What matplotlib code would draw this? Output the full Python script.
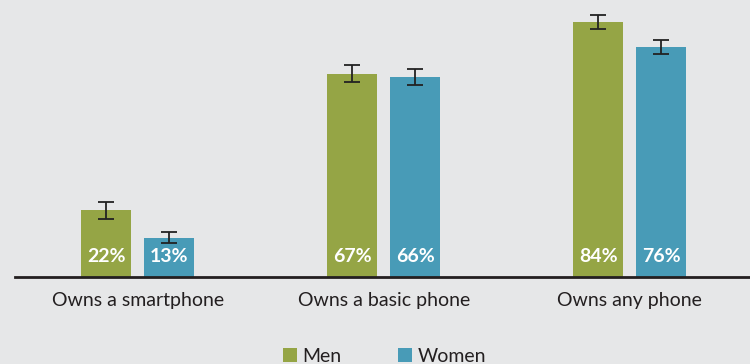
"""Phone ownership by gender, grouped bars with error bars."""

import matplotlib.pyplot as plt
import numpy as np
from matplotlib.patches import Patch

categories = ["Owns a smartphone", "Owns a basic phone", "Owns any phone"]
men = [22, 67, 84]
women = [13, 66, 76]
men_err = [2.7, 2.8, 2.3]
women_err = [1.8, 2.6, 2.3]
series_names = ["Men", "Women"]

GREEN = "#95a545"
BLUE = "#489bb7"
BG = "#e6e7e8"

plt.rcParams["font.family"] = ["Lato", "DejaVu Sans"]

fig = plt.figure(figsize=(7.5, 3.64), dpi=100, facecolor=BG)
ax = fig.add_axes([0.02, 0.239, 0.98, 0.761], facecolor=BG)

x = np.arange(len(categories))
width = 0.203
offset = 0.128

err_kw = dict(ecolor="#222222", elinewidth=1.3, capsize=5.5, capthick=1.3)
ax.bar(x - offset, men, width, color=GREEN, yerr=men_err, error_kw=err_kw, zorder=2)
ax.bar(x + offset, women, width, color=BLUE, yerr=women_err, error_kw=err_kw, zorder=2)

for xi, m, w in zip(x, men, women):
    ax.text(xi - offset, 6.8, f"{m}%", ha="center", va="center", color="white",
            fontsize=14, fontweight="bold", zorder=3)
    ax.text(xi + offset, 6.8, f"{w}%", ha="center", va="center", color="white",
            fontsize=14, fontweight="bold", zorder=3)

ax.set_xlim(-0.5, 2.49)
ax.set_ylim(0, 91.4)
ax.set_xticks(x)
ax.set_xticklabels(categories, fontsize=14, color="#231f20")
ax.tick_params(axis="x", length=0, pad=11)
ax.set_yticks([])
for side in ["top", "right", "left"]:
    ax.spines[side].set_visible(False)
ax.spines["bottom"].set_color("#231f20")
ax.spines["bottom"].set_linewidth(2)
ax.spines["bottom"].set_zorder(4)

handles = [Patch(facecolor=GREEN, label=series_names[0]),
           Patch(facecolor=BLUE, label=series_names[1])]
fig.legend(handles=handles, loc="lower center", bbox_to_anchor=(0.513, -0.05), ncol=2,
           frameon=False, fontsize=14, handlelength=0.7, handleheight=0.7,
           handletextpad=0.3, columnspacing=2.9, labelcolor="#231f20")

fig.savefig("out.png", dpi=100, facecolor=BG)
